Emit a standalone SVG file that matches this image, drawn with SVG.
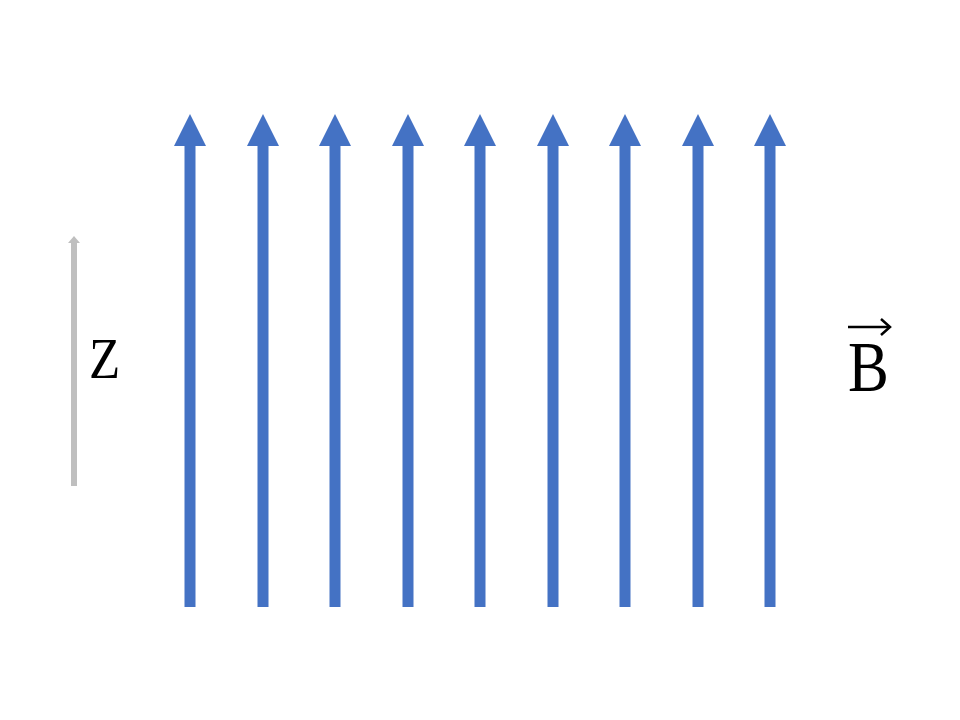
<svg xmlns="http://www.w3.org/2000/svg" width="960" height="720" viewBox="0 0 960 720">
<style>
.shaft{stroke:#4472C4;stroke-width:11;fill:none}
.head{fill:#4472C4}
.lbl{font-family:"Liberation Serif","DejaVu Serif",serif;fill:#000}
</style>
<defs>
<g id="arr">
<line class="shaft" x1="0" y1="607" x2="0" y2="144"/>
<polygon class="head" points="-16,146 16,146 0,114"/>
</g>
</defs>
<rect width="960" height="720" fill="#fff"/>
<g id="field-lines">
<use href="#arr" x="190"/>
<use href="#arr" x="263"/>
<use href="#arr" x="335"/>
<use href="#arr" x="408"/>
<use href="#arr" x="480"/>
<use href="#arr" x="553"/>
<use href="#arr" x="625"/>
<use href="#arr" x="698"/>
<use href="#arr" x="770"/>
</g>
<g id="z-axis">
<line x1="74" y1="486" x2="74" y2="241" stroke="#BFBFBF" stroke-width="6"/>
<polygon points="68,243 80,243 74,236" fill="#BFBFBF"/>
<text class="lbl" x="89" y="378" font-size="58" transform="translate(89 378) scale(0.88 1) translate(-89 -378)">Z</text>
</g>
<g id="b-label">
<text class="lbl" x="848" y="391" font-size="72" transform="translate(848 391) scale(0.85 1) translate(-848 -391)">B</text>
<line x1="848" y1="327" x2="890" y2="327" stroke="#000" stroke-width="2.5"/>
<polyline points="881,319 890,327 881,335" fill="none" stroke="#000" stroke-width="2.5"/>
</g>
</svg>
